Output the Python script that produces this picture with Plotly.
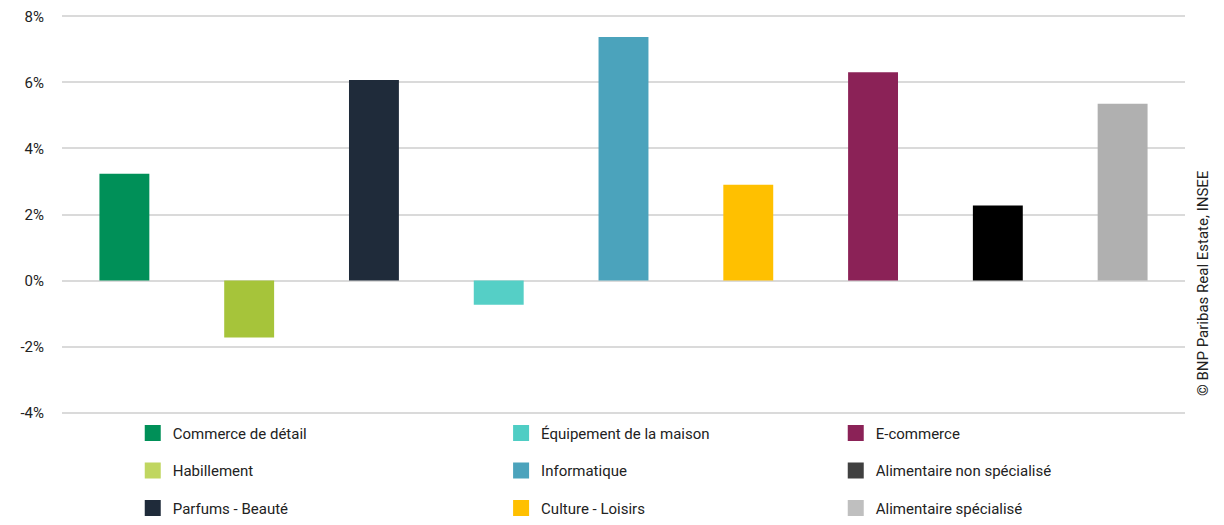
import plotly.graph_objects as go

categories = ["Commerce de détail", "Habillement", "Parfums - Beauté", "Équipement de la maison",
              "Informatique", "Culture - Loisirs", "E-commerce", "Alimentaire non spécialisé",
              "Alimentaire spécialisé"]
values = [3.23, -1.72, 6.07, -0.73, 7.37, 2.90, 6.31, 2.27, 5.35]
bar_colors = ["#009058", "#A6C43A", "#1F2B3A", "#55CFC6", "#4BA3BC", "#FFC000", "#8B2257", "#000000", "#B0B0B0"]
legend_colors = ["#009058", "#C0D660", "#1F2B3A", "#4FCDC4", "#4BA3BC", "#FFC000", "#8B2257", "#404040", "#BFBFBF"]
legend_columns = [["Commerce de détail", "Habillement", "Parfums - Beauté"],
                  ["Équipement de la maison", "Informatique", "Culture - Loisirs"],
                  ["E-commerce", "Alimentaire non spécialisé", "Alimentaire spécialisé"]]
tick_vals = [-4, -2, 0, 2, 4, 6, 8]
tick_text = ["-4%", "-2%", "0%", "2%", "4%", "6%", "8%"]
source = "© BNP Paribas Real Estate, INSEE"

FONT = "Roboto, sans-serif"
def f(size=15):
    return dict(family=FONT, size=size, color="#222222")

fig = go.Figure()
fig.add_trace(go.Bar(x=categories, y=values, marker=dict(color=bar_colors, line=dict(width=0)),
                     width=0.4, showlegend=False))

legend_names = ["legend", "legend2", "legend3"]
for ci, col in enumerate(legend_columns):
    for name in col:
        idx = categories.index(name)
        fig.add_trace(go.Scatter(x=[None], y=[None], mode="markers", name=name,
                                 marker=dict(symbol="square", size=16, color=legend_colors[idx]),
                                 legend=legend_names[ci], legendgroup=name))

leg_common = dict(orientation="v", yanchor="top", y=-0.002, font=f(15),
                  bgcolor="rgba(0,0,0,0)", tracegroupgap=15, traceorder="grouped", itemsizing="trace")
fig.update_layout(
    width=1224, height=525,
    margin=dict(l=54, r=47, t=5, b=117, autoexpand=False),
    paper_bgcolor="white", plot_bgcolor="white",
    font=f(15),
    bargap=0.6,
    xaxis=dict(showticklabels=False, showgrid=False, zeroline=False, showline=False,
               range=[-0.5, len(categories) - 0.5]),
    yaxis=dict(range=[-4.1, 8.1], tickvals=tick_vals, ticktext=tick_text, showgrid=True,
               gridcolor="#DADADA", gridwidth=2, zeroline=False, showline=False,
               ticklabelstandoff=17, ticklabeloverflow="allow", tickfont=f(15)),
    legend=dict(x=0.063, xanchor="left", **leg_common),
    legend2=dict(x=0.391, xanchor="left", **leg_common),
    legend3=dict(x=0.689, xanchor="left", **leg_common),
    annotations=[dict(text=source, xref="paper", yref="paper", x=1.0, xshift=18, y=0.33,
                      textangle=-90, showarrow=False, xanchor="center", yanchor="middle",
                      font=f(15))],
)

fig.write_html("out.html")
